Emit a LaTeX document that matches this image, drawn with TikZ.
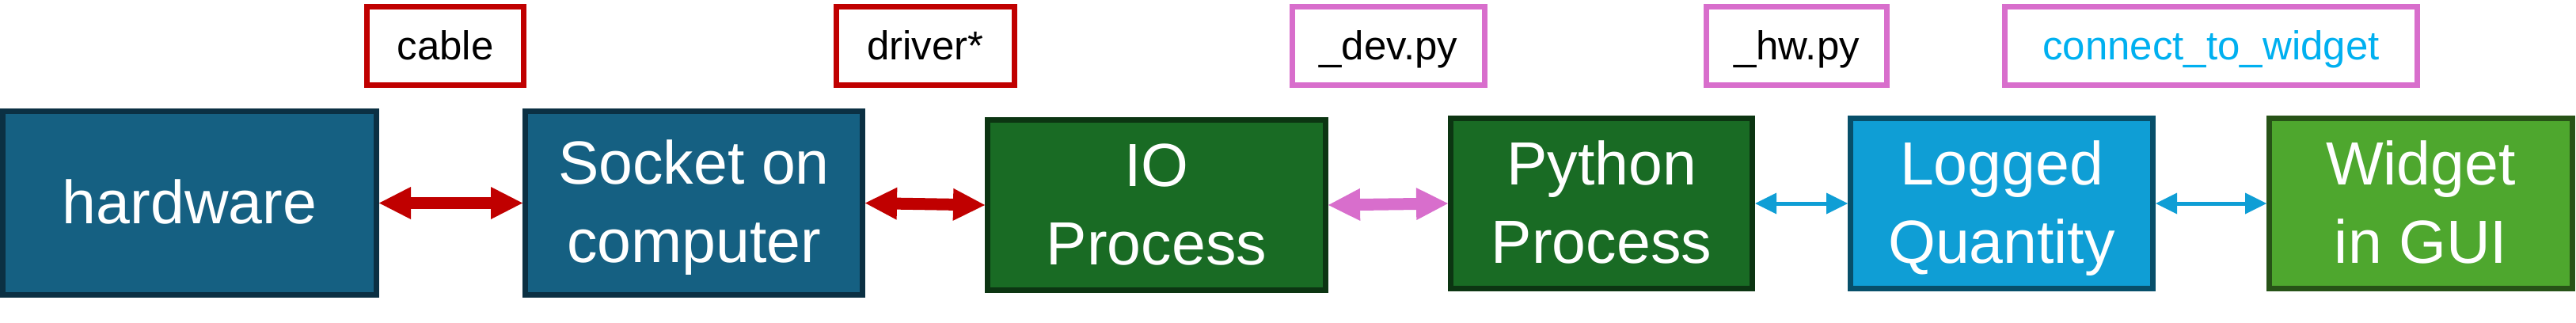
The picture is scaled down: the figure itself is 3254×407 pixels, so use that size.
\documentclass[tikz,border=0pt]{standalone}
\usepackage{fontspec}
\setmainfont{Liberation Sans}
\usetikzlibrary{arrows.meta}
\definecolor{accA}{HTML}{156082}
\definecolor{accAd}{HTML}{0B3043}
\definecolor{accG}{HTML}{196B24}
\definecolor{accGd}{HTML}{0C3512}
\definecolor{accB}{HTML}{0F9ED5}
\definecolor{accBd}{HTML}{074F6A}
\definecolor{accL}{HTML}{4EA72E}
\definecolor{accLd}{HTML}{275317}
\definecolor{redc}{HTML}{C00000}
\definecolor{pinkc}{HTML}{D86ECC}
\definecolor{cyant}{HTML}{00B0F0}
\newcommand\lnstrut{\rule[-17pt]{0pt}{85pt}}
\newcommand\lbstrut{\rule[-14pt]{0pt}{62pt}}
\begin{document}
\begin{tikzpicture}[x=1pt,y=-1pt,
  block/.style={draw, line width=7pt, text=white, align=center, inner sep=0pt,
    font=\fontsize{77}{99}\selectfont},
  tag/.style={draw, line width=7pt, fill=white, inner sep=0pt,
    font=\fontsize{51}{60}\selectfont, minimum height=99pt},
  bigarrow/.style={line width=15pt,
    {Triangle[length=40pt,width=41pt,line width=0pt]}-{Triangle[length=40pt,width=41pt,line width=0pt]}},
  thinarrow/.style={line width=5pt, draw=accB,
    {Triangle[length=27pt,width=27pt,line width=0pt]}-{Triangle[length=27pt,width=27pt,line width=0pt]}}
]
\useasboundingbox (0,0) rectangle (3254,407);
% main blocks
\node[block, fill=accA, draw=accAd, minimum width=472pt, minimum height=232pt] (hw) at (239.5,256.5) {\lnstrut hardware};
\node[block, fill=accA, draw=accAd, minimum width=426pt, minimum height=232pt] (sock) at (876.5,256.5) {\lnstrut Socket on\\\lnstrut computer};
\node[block, fill=accG, draw=accGd, minimum width=427pt, minimum height=215pt] (io) at (1461,259) {\lnstrut IO\\\lnstrut Process};
\node[block, fill=accG, draw=accGd, minimum width=381pt, minimum height=215pt] (py) at (2023,257) {\lnstrut Python\\\lnstrut Process};
\node[block, fill=accB, draw=accBd, minimum width=382pt, minimum height=215pt] (lq) at (2528.5,257) {\lnstrut Logged\\\lnstrut Quantity};
\node[block, fill=accL, draw=accLd, minimum width=383pt, minimum height=215pt] (wg) at (3058,257) {\lnstrut Widget\\\lnstrut in GUI};
% tags
\node[tag, draw=redc, minimum width=198pt] (tcable) at (562.5,58) {\lbstrut cable};
\node[tag, draw=redc, minimum width=225pt] (tdriver) at (1169,58) {\lbstrut driver*};
\node[tag, draw=pinkc, minimum width=243pt] (tdev) at (1754,58) {\lbstrut \_dev.py};
\node[tag, draw=pinkc, minimum width=228pt] (thw) at (2269.5,58) {\lbstrut \_hw.py};
\node[tag, draw=pinkc, minimum width=521pt, text=cyant] (tctw) at (2793,58) {\lbstrut connect\_to\_widget};
% connectors
\draw[bigarrow, draw=redc] (hw.east) -- (sock.west);
\draw[bigarrow, draw=redc] (sock.east) -- (io.west);
\draw[bigarrow, draw=pinkc] (io.east) -- (py.west);
\draw[thinarrow] (py.east) -- (lq.west);
\draw[thinarrow] (lq.east) -- (wg.west);
\end{tikzpicture}
\end{document}
